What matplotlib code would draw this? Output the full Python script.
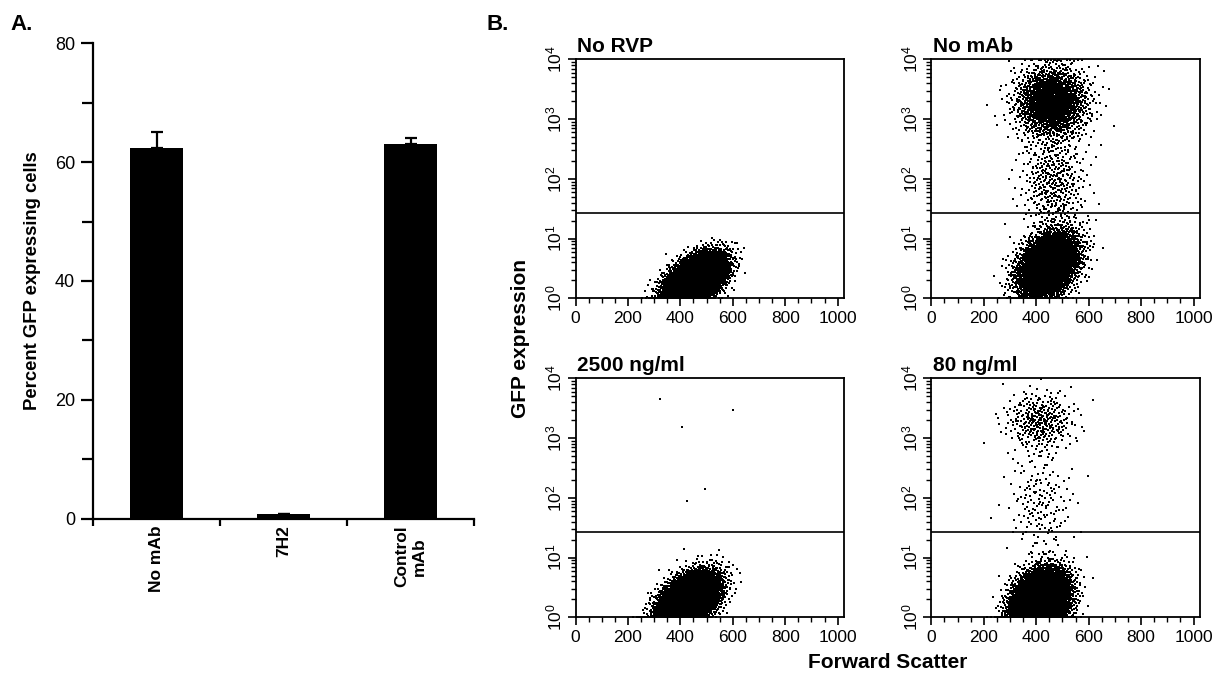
"""Panel A: percent GFP cells per treatment. Panel B: flow cytometry dot plots."""

import matplotlib

matplotlib.use("Agg")

import matplotlib.pyplot as plt
import numpy as np
from matplotlib.ticker import FixedLocator, LogLocator, MultipleLocator, NullFormatter

plt.rcParams.update(
    {
        "font.family": ["Liberation Sans", "DejaVu Sans"],
        "mathtext.fontset": "custom",
        "mathtext.rm": "Liberation Sans",
        "mathtext.it": "Liberation Sans:italic",
        "mathtext.bf": "Liberation Sans:bold",
        "font.size": 12.5,
    }
)

# ---- panel A data ----
bar_labels = ["No mAb", "7H2", "Control\nmAb"]
bar_values = [62.3, 0.7, 63.0]
bar_errors = [2.7, 0.0, 1.0]

# ---- panel B data ----
# each population:
# (forward scatter centre, log10 GFP centre, sd scatter, sd log10 GFP, correlation, events)
gate_level = 26.5
panel_titles = ["No RVP", "No mAb", "2500 ng/ml", "80 ng/ml"]
pops_no_rvp = [(455, 0.30, 55, 0.21, 0.5, 7000)]
pops_no_mab = [
    (460, 3.28, 68, 0.30, 0.0, 1700),
    (465, 1.95, 62, 0.45, 0.0, 420),
    (445, 0.55, 58, 0.28, 0.35, 4000),
]
pops_2500 = [(430, 0.28, 55, 0.22, 0.45, 7000)]
pops_80 = [
    (415, 3.28, 65, 0.25, 0.0, 330),
    (415, 1.90, 62, 0.45, 0.0, 170),
    (415, 0.25, 52, 0.26, 0.25, 7000),
]
# isolated events in the 2500 ng/ml plot
sparse_2500_x = [324, 407, 599, 494, 425, 413, 548, 387, 468, 587]
sparse_2500_logy = [3.66, 3.18, 3.47, 2.14, 1.95, 1.14, 1.12, 0.96, 1.02, 0.84]


def radical_inverse(idx, base):
    out = np.zeros(len(idx))
    f = 1.0 / base
    i = idx.copy()
    while np.any(i > 0):
        out += f * (i % base)
        i //= base
        f /= base
    return out


def normal_quantile(p):
    """Abramowitz-Stegun 26.2.23 approximation of the standard normal quantile."""
    q = np.where(p < 0.5, p, 1.0 - p)
    t = np.sqrt(-2.0 * np.log(q))
    z = t - (2.515517 + 0.802853 * t + 0.010328 * t**2) / (
        1 + 1.432788 * t + 0.189269 * t**2 + 0.001308 * t**3
    )
    return np.where(p < 0.5, -z, z)


def population_points(pop, offset):
    """Spread a population's events as a deterministic Halton cloud."""
    cx, cy, sx, sy, rho, n = pop
    idx = np.arange(1, n + 1) + offset
    z1 = normal_quantile(np.clip(radical_inverse(idx, 2), 1e-5, 1 - 1e-5))
    z2 = normal_quantile(np.clip(radical_inverse(idx, 3), 1e-5, 1 - 1e-5))
    x = cx + sx * z1
    logy = cy + sy * (rho * z1 + np.sqrt(1 - rho**2) * z2)
    logy = np.clip(logy, 0.004, 3.99)
    return x, 10**logy


fig = plt.figure(figsize=(12.23, 6.78), dpi=100)
W, H = 1223.0, 678.0

# ---------------- panel A ----------------
axA = fig.add_axes([93.3 / W, (H - 518.5) / H, 381 / W, 475.2 / H])
pos = np.arange(len(bar_values)) + 0.5
axA.bar(pos, bar_values, width=0.42, color="black", zorder=2)
axA.errorbar(
    pos,
    bar_values,
    yerr=[np.zeros(len(bar_errors)), bar_errors],
    fmt="none",
    ecolor="black",
    elinewidth=1.6,
    capsize=4,
    capthick=1.6,
    zorder=1,
)
axA.set_xlim(0, 3)
axA.set_ylim(0, 80)
for side in ("top", "right"):
    axA.spines[side].set_visible(False)
for side in ("left", "bottom"):
    axA.spines[side].set_linewidth(1.6)
axA.yaxis.set_major_locator(MultipleLocator(20))
axA.yaxis.set_minor_locator(MultipleLocator(10))
axA.tick_params(axis="y", which="major", length=9, width=1.6, pad=4, labelsize=13)
axA.tick_params(axis="y", which="minor", length=8, width=1.6)
axA.xaxis.set_major_locator(FixedLocator([0, 1, 2, 3]))
axA.xaxis.set_major_formatter(NullFormatter())
axA.xaxis.set_minor_locator(FixedLocator(pos))
axA.set_xticklabels(bar_labels, minor=True, rotation=90, fontweight="bold",
                    fontsize=12.5, va="top", ha="center", multialignment="center")
axA.tick_params(axis="x", which="major", length=5, width=1.6)
axA.tick_params(axis="x", which="minor", length=0, pad=5)
axA.set_ylabel("Percent GFP expressing cells", fontsize=13.3, fontweight="bold", labelpad=10)
fig.text(10 / W, 1 - 30 / H, "A.", fontsize=16, fontweight="bold")

# ---------------- panel B ----------------
boxes = [
    (575.5, 298.3),
    (931.3, 298.3),
    (575.5, 617.3),
    (931.3, 617.3),
]
populations = [pops_no_rvp, pops_no_mab, pops_2500, pops_80]
for k, ((left, bottom), title, pops) in enumerate(zip(boxes, panel_titles, populations)):
    ax = fig.add_axes([left / W, (H - bottom) / H, 268.5 / W, 239 / H])
    for j, pop in enumerate(pops):
        x, y = population_points(pop, offset=20000 * j + 3000 * k + 17)
        ax.scatter(x, y, s=1.2, marker="s", color="black", linewidths=0, rasterized=True)
    if title == "2500 ng/ml":
        ax.scatter(sparse_2500_x, 10 ** np.array(sparse_2500_logy), s=2.5, marker="s",
                   color="black", linewidths=0)
    ax.axhline(gate_level, color="black", linewidth=1.2)
    ax.set_yscale("log")
    ax.set_xlim(0, 1024)
    ax.set_ylim(1, 1e4)
    ax.xaxis.set_major_locator(FixedLocator([0, 200, 400, 600, 800, 1000]))
    ax.xaxis.set_minor_locator(MultipleLocator(50))
    ax.yaxis.set_minor_locator(LogLocator(base=10, subs=np.arange(2, 10), numticks=12))
    ax.yaxis.set_minor_formatter(NullFormatter())
    ax.set_yticks([1, 10, 100, 1000, 10000])
    ax.set_yticklabels([r"$10^{0}$", r"$10^{1}$", r"$10^{2}$", r"$10^{3}$", r"$10^{4}$"],
                       rotation=90, va="center")
    ax.tick_params(axis="both", which="major", length=6, width=1.2, labelsize=12.5)
    ax.tick_params(axis="both", which="minor", length=3.5, width=1.0)
    ax.tick_params(axis="y", pad=2)
    for sp in ax.spines.values():
        sp.set_linewidth(1.3)
    ax.set_title(title, loc="left", fontsize=15, fontweight="bold", pad=5, x=0.005)

fig.text(520 / W, 1 - 338 / H, "GFP expression", rotation=90, ha="center", va="center",
         fontsize=15, fontweight="bold")
fig.text(888 / W, 1 - 662 / H, "Forward Scatter", ha="center", va="center",
         fontsize=15, fontweight="bold")
fig.text(486 / W, 1 - 30 / H, "B.", fontsize=16, fontweight="bold")

fig.savefig("out.png", dpi=100)
